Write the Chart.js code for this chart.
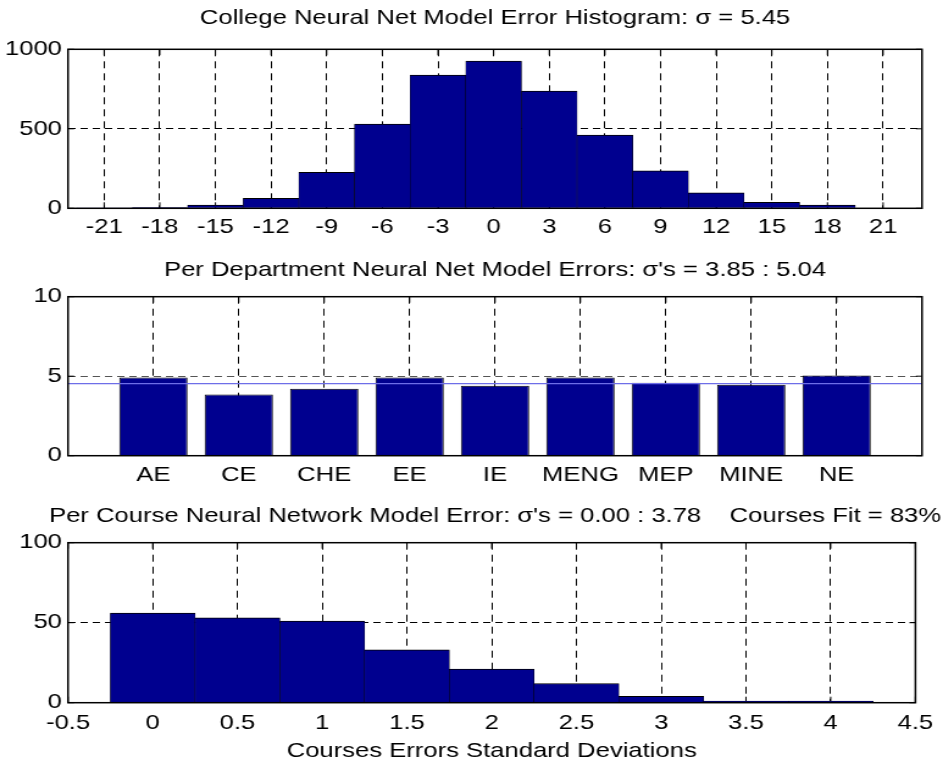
<!DOCTYPE html>
<html><head><meta charset="utf-8">
<script src="https://cdn.jsdelivr.net/npm/chart.js@4.4.1/dist/chart.umd.min.js"></script>
<style>
html,body{margin:0;padding:0;background:#fff;}
#wrap{position:relative;width:943px;height:766px;overflow:hidden;background:#fff;}
#wrap canvas{position:absolute;left:0;top:0;}
</style></head><body>
<div id="wrap">
<canvas id="c1" width="773" height="766" style="width:943px;height:766px"></canvas>
<canvas id="c2" width="773" height="766" style="width:943px;height:766px"></canvas>
<canvas id="c3" width="773" height="766" style="width:943px;height:766px"></canvas>
</div>
<script>
// ---------- data ----------
const histTitle = 'College Neural Net Model Error Histogram: σ = 5.45';
const histBinCenters = [-21, -18, -15, -12, -9, -6, -3, 0, 3, 6, 9, 12, 15, 18, 21];
const histCounts = [2, 5, 20, 63, 226, 530, 838, 926, 738, 461, 235, 98, 38, 21, 3];
const histXTicks = [-21, -18, -15, -12, -9, -6, -3, 0, 3, 6, 9, 12, 15, 18, 21];
const histYTicks = [0, 500, 1000];

const deptTitle = "Per Department Neural Net Model Errors: σ's = 3.85 : 5.04";
const departments = ['AE', 'CE', 'CHE', 'EE', 'IE', 'MENG', 'MEP', 'MINE', 'NE'];
const deptSigmas = [4.92, 3.85, 4.21, 4.92, 4.40, 4.92, 4.59, 4.46, 5.04];
const deptMeanSigma = 4.53;
const deptYTicks = [0, 5, 10];

const courseTitle = "Per Course Neural Network Model Error: σ's = 0.00 : 3.78    Courses Fit = 83%";
const courseXLabel = 'Courses Errors Standard Deviations';
const courseBinCenters = [0, 0.5, 1, 1.5, 2, 2.5, 3, 3.5, 4];
const courseCounts = [56, 53, 51, 33, 21, 12, 4, 1, 1];
const courseXTicks = [-0.5, 0, 0.5, 1, 1.5, 2, 2.5, 3, 3.5, 4, 4.5];
const courseYTicks = [0, 50, 100];

// ---------- styling / layout ----------
const NAVY = '#00008f';
const FAMILY = "'Liberation Sans', Arial, sans-serif";
Chart.defaults.font.family = FAMILY;
Chart.defaults.font.size = 21;
Chart.defaults.color = '#000';

const PAD_L = 38.6;      // layout padding left (logical px)
const YAXIS_W = 17.14;   // left axis box width
const RIGHT_W = 17.2;    // dummy right axis width

const axesBox = {
  id: 'axesBox',
  afterLayout(chart) {
    // let the y tick labels use the whole left margin (labels are clipped to the scale box)
    chart.scales.y.left = 0;
  },
  beforeDatasetsDraw(chart) {
    const {ctx, chartArea: {left, right, top, bottom}, scales: {x, y}} = chart;
    ctx.save();
    ctx.strokeStyle = '#000';
    ctx.lineWidth = 1;
    ctx.beginPath();
    x.ticks.forEach(t => {
      const px = x.getPixelForValue(t.value);
      ctx.moveTo(px, bottom); ctx.lineTo(px, bottom - 6);
      ctx.moveTo(px, top); ctx.lineTo(px, top + 6);
    });
    y.ticks.forEach(t => {
      const py = y.getPixelForValue(t.value);
      ctx.moveTo(left, py); ctx.lineTo(left + 5, py);
      ctx.moveTo(right, py); ctx.lineTo(right - 5, py);
    });
    ctx.stroke();
    ctx.restore();
  },
  afterDatasetsDraw(chart) {
    const {ctx, chartArea: {left, right, top, bottom}} = chart;
    ctx.save();
    ctx.strokeStyle = '#000';
    ctx.lineWidth = 1.5;
    ctx.strokeRect(left, top, right - left, bottom - top);
    ctx.restore();
  }
};

function fixedTicks(values) {
  return (scale) => { scale.ticks = values.map(v => ({value: v})); };
}

function makeOptions(o) {
  return {
    responsive: false,
    animation: false,
    events: [],
    layout: {padding: {left: PAD_L, right: 0, top: o.padTop, bottom: o.padBottom}},
    plugins: {
      legend: {display: false},
      tooltip: {enabled: false},
      title: {
        display: true, text: o.title, fullSize: true, align: 'center', color: '#000',
        font: {family: FAMILY, size: 21, weight: 'normal', lineHeight: 1.2},
        padding: o.titlePad
      }
    },
    scales: {
      x: {
        type: 'linear', min: o.xMin, max: o.xMax, offset: false,
        afterBuildTicks: fixedTicks(o.xTicks),
        afterFit: (s) => { s.height = o.xHeight; },
        grid: {color: '#000', lineWidth: 1, drawTicks: false, offset: false},
        border: {display: false, dash: [7, 5]},
        ticks: {padding: o.xTickPad, autoSkip: false, maxRotation: 0, minRotation: 0,
                font: {size: 21}, callback: o.xCallback || ((v) => String(v))},
        title: o.xTitle ? {display: true, text: o.xTitle, color: '#000',
                font: {size: 21, lineHeight: 1.2}, padding: {top: 0, bottom: o.xTitlePadBottom}} : {display: false}
      },
      y: {
        type: 'linear', position: 'left', min: o.yMin, max: o.yMax,
        afterBuildTicks: fixedTicks(o.yTicks),
        afterFit: (s) => { s.width = YAXIS_W; },
        grid: {color: o.hGrid, lineWidth: 1, drawTicks: false},
        border: {display: false, dash: [6, 4]},
        ticks: {padding: 5, font: {size: 21}, callback: (v) => String(v)}
      },
      y2: {
        type: 'linear', position: 'right', display: true,
        afterFit: (s) => { s.width = RIGHT_W; },
        grid: {display: false}, border: {display: false}, ticks: {display: false}
      }
    }
  };
}

// ---------- chart 1: college histogram ----------
new Chart(document.getElementById('c1'), {
  type: 'bar',
  data: {datasets: [{
    data: histBinCenters.map((x, i) => ({x, y: histCounts[i]})),
    backgroundColor: NAVY, borderColor: '#000',
    borderWidth: {top: 1, left: 0.5, right: 0.5, bottom: 0},
    barPercentage: 1, categoryPercentage: 1, yAxisID: 'y', xAxisID: 'x'
  }]},
  options: makeOptions({
    title: histTitle, padTop: 0, padBottom: 517.7, titlePad: {top: 5.7, bottom: 18.4},
    xMin: -22.95, xMax: 23.1, xTicks: histXTicks, xHeight: 40, xTickPad: 6.6,
    yMin: 0, yMax: 1000, yTicks: histYTicks, hGrid: '#000'
  }),
  plugins: [axesBox]
});

// ---------- chart 2: per department ----------
new Chart(document.getElementById('c2'), {
  type: 'bar',
  data: {datasets: [
    {
      type: 'line', order: 0,
      data: [{x: 0, y: deptMeanSigma}, {x: departments.length + 1, y: deptMeanSigma}],
      borderColor: '#6e6ee8', borderWidth: 1.1, pointRadius: 0, fill: false,
      yAxisID: 'y', xAxisID: 'x'
    },
    {
      type: 'bar', order: 1,
      data: departments.map((d, i) => ({x: i + 1, y: deptSigmas[i]})),
      backgroundColor: NAVY, borderColor: '#000', borderWidth: 1,
      barPercentage: 0.8, categoryPercentage: 1, yAxisID: 'y', xAxisID: 'x'
    }
  ]},
  options: makeOptions({
    title: deptTitle, padTop: 250, padBottom: 270.3, titlePad: {top: 7.7, bottom: 13.8},
    xMin: 0, xMax: departments.length + 1, xTicks: departments.map((d, i) => i + 1),
    xCallback: (v) => departments[v - 1], xHeight: 40, xTickPad: 6.6,
    yMin: 0, yMax: 10, yTicks: deptYTicks, hGrid: '#555'
  }),
  plugins: [axesBox]
});

// ---------- chart 3: per course ----------
new Chart(document.getElementById('c3'), {
  type: 'bar',
  data: {datasets: [{
    data: courseBinCenters.map((x, i) => ({x, y: courseCounts[i]})),
    backgroundColor: NAVY, borderColor: '#000',
    borderWidth: {top: 1, left: 0.5, right: 0.5, bottom: 0},
    barPercentage: 1, categoryPercentage: 1, yAxisID: 'y', xAxisID: 'x'
  }]},
  options: makeOptions({
    title: courseTitle, padTop: 500, padBottom: 0, titlePad: {top: 3.4, bottom: 14.1},
    xMin: -0.5, xMax: 4.5, xTicks: courseXTicks, xHeight: 63.3, xTickPad: 8,
    xTitle: courseXLabel, xTitlePadBottom: 1.9,
    yMin: 0, yMax: 100, yTicks: courseYTicks, hGrid: '#000'
  }),
  plugins: [axesBox]
});
</script>
</body></html>
